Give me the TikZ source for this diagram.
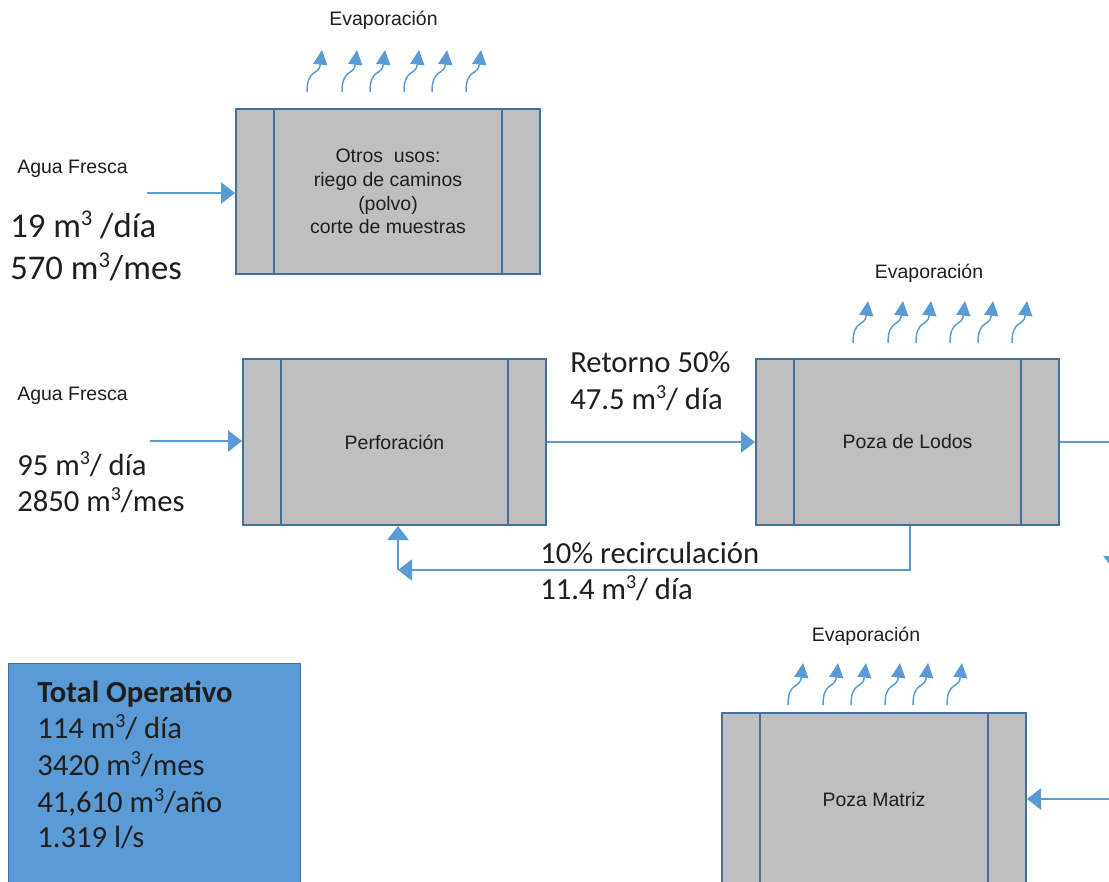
\documentclass[tikz,border=0pt]{standalone}
\usepackage{fontspec}
\usepackage{graphicx}
\setmainfont{Liberation Sans}
\newfontfamily\calibri{Carlito}
\usetikzlibrary{arrows.meta,calc}

\definecolor{flowblue}{HTML}{5B9BD5}
\definecolor{boxline}{HTML}{41719C}
\definecolor{boxfill}{HTML}{BFBFBF}
\definecolor{totalfill}{HTML}{5B9BD5}
\definecolor{ink}{HTML}{1E1E1E}

% small raised exponent, as set by a word processor
\newcommand{\expo}[1]{\raisebox{0.34em}{\scalebox{0.65}{#1}}}

\tikzset{
  flow/.style={draw=flowblue, line width=1.1pt, -{Triangle[length=10.5pt,width=16pt]}},
  evap/.pic={\draw[draw=flowblue, line width=1.1pt, -{Triangle[length=11pt,width=10.5pt]}]
      (0,0) .. controls (0,-24) and (12,-16) .. (15,-42);},
  tank/.style={draw=boxline, fill=boxfill, line width=1.5pt, inner sep=0pt,
      align=center, text=ink, font=\fontsize{14.6}{17.8}\selectfont,
      path picture={\draw[boxline, line width=1.5pt]
        ([xshift=28.5pt]path picture bounding box.north west) --
        ([xshift=28.5pt]path picture bounding box.south west)
        ([xshift=-28.5pt]path picture bounding box.north east) --
        ([xshift=-28.5pt]path picture bounding box.south east);}},
  small/.style={font=\fontsize{14.6}{17.8}\selectfont, text=ink, inner sep=0pt},
  big/.style={font=\calibri\fontsize{23}{27.75}\selectfont, text=ink, inner sep=0pt, anchor=base west},
  bigger/.style={font=\calibri\fontsize{26}{31}\selectfont, text=ink, inner sep=0pt, anchor=base west},
}

\begin{document}
\begin{tikzpicture}[x=0.75pt, y=-0.75pt]
  \useasboundingbox (0,0) rectangle (1109,881);
  \clip (0,0) rectangle (1109,881);

  % process tanks
  \node[tank, minimum width=228pt, minimum height=123.75pt] (otros) at (388,191.5)
    {Otros~ usos:\\ riego de caminos\\ (polvo)\\ corte de muestras};
  \node[tank, minimum width=227.25pt, minimum height=124.5pt] (perf) at (394.5,442) {Perforación};
  \node[tank, minimum width=227.25pt, minimum height=124.5pt] (lodos) at (907.5,442) {Poza de Lodos};
  \node[tank, minimum width=228pt, minimum height=130.5pt] (matriz) at (874,800) {Poza Matriz};

  % evaporation over each tank
  \node[small, anchor=base] (ev1) at (383.5,26) {Evaporación};
  \node[small, anchor=base] (ev2) at (929,278) {Evaporación};
  \node[small, anchor=base] (ev3) at (866,641) {Evaporación};
  \foreach \dx in {0,35,63,97,125,159} {
    \pic at (307+\dx,92) {evap};
    \pic at (853+\dx,343) {evap};
    \pic at (788+\dx,705) {evap};
  }

  % fresh water to other uses
  \node[small, anchor=base west] (agua1) at (17,173) {Agua Fresca};
  \node[bigger] (q1a) at (10,237) {19 m\expo{3} /día};
  \node[bigger] (q1b) at (10,279) {570 m\expo{3}/mes};
  \coordinate (af1) at (147,193);
  \draw[flow] (af1) -- (af1 -| otros.west);

  % fresh water to drilling
  \node[small, anchor=base west] (agua2) at (17,400) {Agua Fresca};
  \node[big] (q2a) at (17,475) {95 m\expo{3}/ día};
  \node[big] (q2b) at (17,511) {2850 m\expo{3}/mes};
  \coordinate (af2) at (150,441);
  \draw[flow] (af2) -- (af2 -| perf.west);

  % return to the mud pond
  \node[big] (ret1) at (570,372) {Retorno 50\%};
  \node[big] (ret2) at (570,409) {47.5 m\expo{3}/ día};
  \draw[flow] (perf.east) -- (lodos.west);

  % recirculation back to drilling
  \node[big] (rec1) at (540,563) {10\% recirculación};
  \node[big] (rec2) at (540,599) {11.4 m\expo{3}/ día};
  \coordinate (rc) at (398,570);
  \draw[flow] ([xshift=1.9pt]lodos.south) |- (rc);
  \draw[flow] (rc) -- (rc |- perf.south);

  % outflow of the mud pond
  \coordinate (ldown) at (1114,570);
  \draw[flow] (lodos.east) -| (ldown);

  % inflow to the main pond
  \coordinate (min) at (1116,799);
  \draw[flow] (min) -- (min -| matriz.east);

  % operating total
  \node[draw=boxline, fill=totalfill, line width=1.1pt, anchor=north west, inner sep=0pt,
        minimum width=219pt, minimum height=180pt] (total) at (8,663) {};
  \node[big, font=\calibri\bfseries\fontsize{23}{27.75}\selectfont] (t0) at (37,702) {Total Operativo};
  \node[big] (t1) at (37,738) {114 m\expo{3}/ día};
  \node[big] (t2) at (37,775) {3420 m\expo{3}/mes};
  \node[big] (t3) at (37,812) {41,610 m\expo{3}/año};
  \node[big] (t4) at (37,847) {1.319 l/s};
\end{tikzpicture}
\end{document}
